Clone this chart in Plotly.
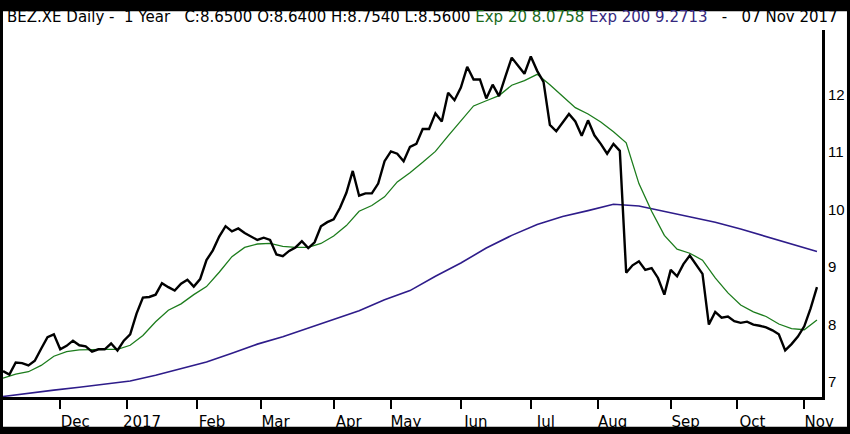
import pandas as pd
import plotly.graph_objects as go

# trading calendar (weekdays minus exchange holidays)
holidays = ['2016-12-26', '2017-04-14', '2017-04-17', '2017-05-01', '2017-10-03']
days = pd.bdate_range('2016-11-07', '2017-11-07')
days = days[~days.isin(pd.to_datetime(holidays))]

# close, read every 2nd trading day
close = [7.19, 7.13, 7.34, 7.33, 7.29, 7.37, 7.58, 7.78, 7.83, 7.57,
         7.63, 7.72, 7.64, 7.62, 7.53, 7.57, 7.57, 7.67, 7.55, 7.72,
         7.83, 8.19, 8.47, 8.48, 8.52, 8.72, 8.65, 8.59, 8.71, 8.78,
         8.66, 8.79, 9.12, 9.29, 9.53, 9.71, 9.62, 9.67, 9.59, 9.53,
         9.47, 9.51, 9.47, 9.22, 9.19, 9.28, 9.34, 9.45, 9.33, 9.43,
         9.71, 9.78, 9.83, 10.03, 10.29, 10.67, 10.24, 10.28, 10.28, 10.45,
         10.84, 11.01, 10.97, 10.84, 11.09, 11.14, 11.40, 11.40, 11.67, 11.53,
         12.03, 11.90, 12.12, 12.48, 12.26, 12.26, 11.93, 12.17, 11.97, 12.31,
         12.64, 12.50, 12.36, 12.66, 12.41, 12.22, 11.47, 11.36, 11.50, 11.66,
         11.53, 11.28, 11.55, 11.29, 11.14, 10.97, 11.14, 11.02, 8.90, 9.03,
         9.10, 8.95, 8.98, 8.81, 8.52, 8.95, 8.84, 9.05, 9.20, 9.05,
         8.88, 8.00, 8.22, 8.12, 8.14, 8.06, 8.03, 8.05, 8.00, 7.98,
         7.95, 7.90, 7.83, 7.55, 7.66, 7.79, 7.97, 8.28, 8.65]

# exp 20, read every 4th trading day
exp20 = [7.07, 7.14, 7.18, 7.29, 7.45, 7.53, 7.56, 7.57, 7.57, 7.57,
         7.64, 7.81, 8.05, 8.25, 8.36, 8.52, 8.66, 8.91, 9.18, 9.34,
         9.40, 9.41, 9.36, 9.34, 9.34, 9.41, 9.54, 9.72, 9.97, 10.07,
         10.22, 10.48, 10.64, 10.82, 11.01, 11.28, 11.55, 11.80, 11.89, 11.98,
         12.16, 12.24, 12.35, 12.17, 11.97, 11.77, 11.66, 11.52, 11.35, 11.16,
         10.45, 9.97, 9.55, 9.31, 9.24, 9.12, 8.81, 8.55, 8.34, 8.22,
         8.14, 8.01, 7.93, 7.91, 8.08]

# exp 200, read every 8th trading day
exp200 = [6.75, 6.81, 6.86, 6.91, 6.96, 7.02, 7.12, 7.24, 7.35, 7.50,
          7.66, 7.79, 7.94, 8.09, 8.24, 8.43, 8.59, 8.84, 9.07, 9.33,
          9.55, 9.74, 9.88, 9.98, 10.09, 10.06, 9.97, 9.88, 9.78, 9.66,
          9.53, 9.39, 9.27]

month_labels = ['Dec', '2017', 'Feb', 'Mar', 'Apr', 'May', 'Jun', 'Jul', 'Aug', 'Sep', 'Oct', 'Nov']
price_ticks = [7, 8, 9, 10, 11, 12]

symbol = 'BEZ.XE'
last_c, last_o, last_h, last_l = 8.65, 8.64, 8.754, 8.56
last_exp20, last_exp200 = 8.0758, 9.2713
last_date = '07 Nov 2017'

# ticks on the first trading day of each month
s = days.to_series()
month_ticks = list(s.groupby(days.to_period('M')).first())[1:]

green = '#1c7c1c'
indigo = '#2e1c8a'

fig = go.Figure()
fig.add_trace(go.Scatter(x = days[::8], y = exp200, mode = 'lines',
                         line = dict(color = indigo, width = 1.6), name = 'Exp 200'))
fig.add_trace(go.Scatter(x = days[::4], y = exp20, mode = 'lines',
                         line = dict(color = green, width = 1.3), name = 'Exp 20'))
fig.add_trace(go.Scatter(x = days[::2], y = close, mode = 'lines',
                         line = dict(color = 'black', width = 2.4), name = 'Close'))

sp = '\u00a0'
title = (f"{symbol} Daily -{sp*2}1 Year{sp*3}C:{last_c:.4f} O:{last_o:.4f} H:{last_h:.4f} L:{last_l:.4f} "
         f"<span style='color:#1a6a1a'>Exp 20 {last_exp20:.4f}</span> "
         f"<span style='color:#35287e'>Exp 200 {last_exp200:.4f}</span>{sp*3}-{sp*3}{last_date}")

fig.update_layout(
    width = 850, height = 434,
    margin = dict(l = 3, r = 28, t = 30, b = 34),
    paper_bgcolor = 'black',
    plot_bgcolor = 'white',
    showlegend = False,
    font = dict(family = 'DejaVu Sans', size = 15, color = 'black'),
    shapes = [dict(type = 'rect', xref = 'paper', yref = 'paper', layer = 'below',
                   x0 = 0, x1 = 1.0305, y0 = -0.081, y1 = 1.051,
                   fillcolor = 'white', line = dict(width = 0))],
    annotations = [dict(text = title, xref = 'paper', yref = 'paper', x = 0.002, y = 1.035,
                        xanchor = 'left', yanchor = 'middle', showarrow = False,
                        font = dict(family = 'DejaVu Sans', size = 15, color = 'black'))]
)

fig.update_xaxes(
    type = 'date',
    range = ['2016-11-07', '2017-11-08 14:00'],
    rangebreaks = [dict(bounds = ['sat', 'mon']), dict(values = holidays)],
    tickvals = month_ticks, ticktext = month_labels,
    ticks = 'outside', ticklen = 9, tickwidth = 2, tickcolor = 'black',
    ticklabelshift = 15,
    showline = True, linecolor = 'black', linewidth = 2.5,
    showgrid = False, zeroline = False,
    tickfont = dict(size = 15)
)
fig.update_yaxes(
    side = 'right',
    range = [6.741, 13.12],
    tickvals = price_ticks,
    ticks = '', ticklabelstandoff = 0,
    showline = True, linecolor = 'black', linewidth = 3,
    showgrid = False, zeroline = False,
    tickfont = dict(family = 'Liberation Sans', size = 15)
)

# drop the page margin so the 850x434 figure fills the window
fig.write_html('out.html', config = {'displayModeBar': False},
               post_script = "document.body.style.margin='0';document.body.style.overflow='hidden';")
